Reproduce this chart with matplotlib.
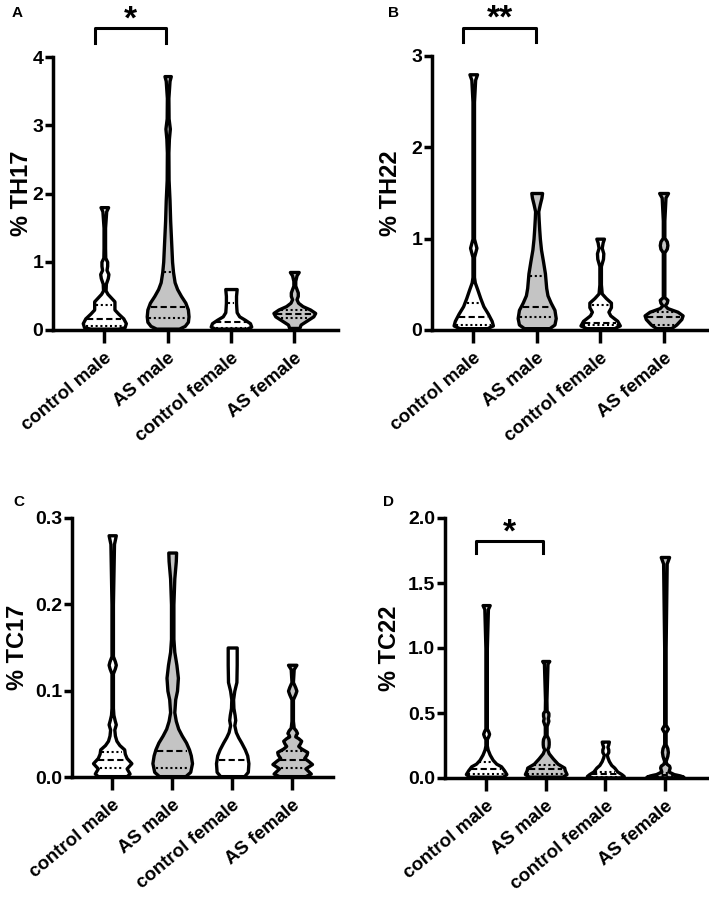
import matplotlib
matplotlib.use("Agg")
import matplotlib.pyplot as plt
import numpy as np

plt.rcParams['font.family'] = ['Liberation Sans', 'DejaVu Sans']
plt.rcParams['font.weight'] = 'bold'

groups = ['control male', 'AS male', 'control female', 'AS female']
fills = ['white', '#c4c4c4', 'white', '#c4c4c4']

# violin outlines: y levels and half widths (category units), per group
th17_y = [
    [0.02, 0.04, 0.1, 0.17, 0.24, 0.3, 0.36, 0.42, 0.47, 0.53, 0.58, 0.68, 0.76, 0.82, 0.88, 0.94, 1.0, 1.06, 1.2, 1.5, 1.74, 1.8],
    [0.02, 0.06, 0.12, 0.2, 0.3, 0.4, 0.5, 0.6, 0.7, 0.85, 1.0, 1.3, 1.6, 1.9, 2.2, 2.6, 2.8, 2.95, 3.1, 3.4, 3.65, 3.72],
    [0.02, 0.05, 0.1, 0.15, 0.2, 0.26, 0.32, 0.4, 0.5, 0.55, 0.6],
    [0.03, 0.08, 0.14, 0.2, 0.25, 0.3, 0.35, 0.4, 0.45, 0.5, 0.55, 0.6, 0.65, 0.72, 0.8, 0.85],
]
th17_w = [
    [0.22, 0.32, 0.34, 0.3, 0.22, 0.16, 0.16, 0.16, 0.11, 0.05, 0.02, 0.025, 0.055, 0.065, 0.035, 0.045, 0.045, 0.015, 0.012, 0.012, 0.03, 0.06],
    [0.18, 0.27, 0.32, 0.33, 0.32, 0.28, 0.21, 0.15, 0.11, 0.085, 0.07, 0.055, 0.04, 0.03, 0.015, 0.012, 0.02, 0.035, 0.015, 0.012, 0.03, 0.05],
    [0.25, 0.32, 0.3, 0.22, 0.13, 0.09, 0.085, 0.08, 0.08, 0.085, 0.09],
    [0.08, 0.1, 0.2, 0.3, 0.33, 0.25, 0.13, 0.06, 0.035, 0.055, 0.055, 0.035, 0.015, 0.015, 0.035, 0.07],
]
th17_q = [[0.06, 0.16, 0.37], [0.17, 0.34, 0.85], [0.03, 0.11, 0.39], [0.17, 0.24, 0.3]]

th22_y = [
    [0.02, 0.05, 0.1, 0.18, 0.26, 0.35, 0.44, 0.52, 0.58, 0.8, 0.86, 0.9, 0.94, 1.0, 1.5, 2.0, 2.5, 2.74, 2.8],
    [0.02, 0.06, 0.13, 0.22, 0.3, 0.38, 0.46, 0.62, 0.75, 0.88, 1.0, 1.1, 1.22, 1.3, 1.38, 1.45, 1.5],
    [0.02, 0.05, 0.1, 0.16, 0.2, 0.25, 0.3, 0.35, 0.4, 0.5, 0.7, 0.78, 0.84, 0.9, 0.96, 1.0],
    [0.02, 0.06, 0.12, 0.16, 0.2, 0.24, 0.27, 0.3, 0.33, 0.36, 0.5, 0.85, 0.89, 0.93, 0.97, 1.01, 1.2, 1.45, 1.5],
]
th22_w = [
    [0.22, 0.31, 0.29, 0.23, 0.16, 0.11, 0.066, 0.025, 0.012, 0.012, 0.035, 0.05, 0.035, 0.012, 0.012, 0.012, 0.012, 0.03, 0.06],
    [0.2, 0.28, 0.3, 0.28, 0.22, 0.17, 0.15, 0.13, 0.1, 0.068, 0.05, 0.04, 0.03, 0.025, 0.05, 0.075, 0.085],
    [0.22, 0.31, 0.27, 0.16, 0.13, 0.17, 0.17, 0.09, 0.025, 0.012, 0.012, 0.045, 0.05, 0.025, 0.04, 0.06],
    [0.12, 0.2, 0.28, 0.3, 0.22, 0.06, 0.02, 0.05, 0.06, 0.012, 0.012, 0.012, 0.05, 0.06, 0.05, 0.012, 0.012, 0.03, 0.07],
]
th22_q = [[0.05, 0.14, 0.3], [0.14, 0.25, 0.59], [0.05, 0.08, 0.27], [0.06, 0.14, 0.2]]

tc17_y = [
    [0.001, 0.004, 0.01, 0.016, 0.022, 0.027, 0.032, 0.037, 0.042, 0.048, 0.055, 0.061, 0.066, 0.072, 0.08, 0.12, 0.126, 0.13, 0.134, 0.14, 0.2, 0.27, 0.28],
    [0.001, 0.006, 0.016, 0.025, 0.032, 0.04, 0.048, 0.056, 0.065, 0.075, 0.09, 0.1, 0.115, 0.13, 0.145, 0.16, 0.2, 0.23, 0.25, 0.26],
    [0.001, 0.006, 0.016, 0.025, 0.032, 0.04, 0.046, 0.052, 0.06, 0.066, 0.072, 0.08, 0.09, 0.1, 0.11, 0.13, 0.15],
    [0.001, 0.004, 0.01, 0.015, 0.019, 0.022, 0.026, 0.029, 0.033, 0.036, 0.039, 0.042, 0.045, 0.047, 0.049, 0.051, 0.054, 0.057, 0.065, 0.09, 0.096, 0.1, 0.104, 0.11, 0.125, 0.13],
]
tc17_w = [
    [0.24, 0.29, 0.24, 0.32, 0.24, 0.21, 0.2, 0.12, 0.07, 0.045, 0.035, 0.06, 0.04, 0.02, 0.012, 0.012, 0.045, 0.06, 0.045, 0.012, 0.012, 0.03, 0.06],
    [0.22, 0.3, 0.33, 0.31, 0.28, 0.23, 0.16, 0.1, 0.06, 0.035, 0.05, 0.08, 0.095, 0.07, 0.035, 0.02, 0.02, 0.035, 0.06, 0.065],
    [0.2, 0.26, 0.27, 0.25, 0.21, 0.15, 0.1, 0.06, 0.035, 0.05, 0.04, 0.02, 0.015, 0.035, 0.07, 0.075, 0.075],
    [0.22, 0.31, 0.22, 0.33, 0.26, 0.2, 0.24, 0.25, 0.15, 0.1, 0.13, 0.15, 0.1, 0.05, 0.06, 0.08, 0.06, 0.025, 0.012, 0.012, 0.05, 0.07, 0.05, 0.012, 0.025, 0.07],
]
tc17_q = [[0.01, 0.02, 0.029], [0.01, 0.03, None], [None, 0.02, None], [0.01, 0.02, 0.03]]

tc22_y = [
    [0.01, 0.03, 0.06, 0.09, 0.11, 0.14, 0.18, 0.22, 0.25, 0.3, 0.32, 0.34, 0.36, 0.38, 0.5, 1.0, 1.3, 1.33],
    [0.01, 0.03, 0.06, 0.08, 0.11, 0.15, 0.19, 0.22, 0.24, 0.26, 0.28, 0.3, 0.33, 0.4, 0.44, 0.46, 0.48, 0.5, 0.52, 0.6, 0.88, 0.9],
    [0.005, 0.015, 0.03, 0.05, 0.08, 0.1, 0.13, 0.16, 0.18, 0.2, 0.22, 0.24, 0.26, 0.28],
    [0.005, 0.01, 0.02, 0.03, 0.05, 0.065, 0.08, 0.095, 0.11, 0.13, 0.17, 0.2, 0.23, 0.26, 0.35, 0.38, 0.41, 0.45, 1.0, 1.65, 1.7],
]
tc22_w = [
    [0.28, 0.34, 0.3, 0.25, 0.17, 0.11, 0.06, 0.025, 0.012, 0.012, 0.035, 0.05, 0.035, 0.012, 0.012, 0.012, 0.03, 0.06],
    [0.28, 0.35, 0.32, 0.31, 0.2, 0.12, 0.05, 0.025, 0.045, 0.05, 0.05, 0.045, 0.015, 0.015, 0.045, 0.035, 0.045, 0.045, 0.015, 0.012, 0.03, 0.06],
    [0.25, 0.31, 0.27, 0.2, 0.15, 0.1, 0.06, 0.035, 0.025, 0.05, 0.05, 0.035, 0.05, 0.06],
    [0.25, 0.31, 0.25, 0.15, 0.06, 0.07, 0.08, 0.07, 0.025, 0.012, 0.04, 0.05, 0.04, 0.012, 0.012, 0.05, 0.012, 0.012, 0.012, 0.03, 0.07],
]
tc22_q = [[0.03, 0.07, 0.12], [0.03, 0.07, 0.1], [0.01, 0.03, 0.05], [0.005, 0.02, 0.04]]

W, H = 709, 902
fig = plt.figure(figsize=(W / 100, H / 100), dpi=100)


def box(l, r, t, b):
    return [l / W, 1 - b / H, (r - l) / W, (b - t) / H]


panels = [
    dict(rect=box(53, 338, 57, 330), xlim=(-0.81, 3.69), ylim=4, ticks=[0, 1, 2, 3, 4], fmt='%g',
         label='% TH17', lx=-0.07, ys=th17_y, ws=th17_w, qs=th17_q, letter='A', lpos=(12, 13),
         sig=(-0.14, 0.97, 4.42, 4.2, '*')),
    dict(rect=box(432, 708, 56, 330), xlim=(-0.65, 3.7), ylim=3, ticks=[0, 1, 2, 3], fmt='%g',
         label='% TH22', lx=-0.11, ys=th22_y, ws=th22_w, qs=th22_q, letter='B', lpos=(388, 13),
         sig=(-0.16, 0.99, 3.31, 3.15, '**')),
    dict(rect=box(72, 333, 518, 777), xlim=(-0.67, 3.68), ylim=0.3, ticks=[0, 0.1, 0.2, 0.3], fmt='%.1f',
         label='% TC17', lx=-0.165, ys=tc17_y, ws=tc17_w, qs=tc17_q, letter='C', lpos=(13, 502), sig=None),
    dict(rect=box(445, 709, 518, 778), xlim=(-0.69, 3.74), ylim=2.0, ticks=[0, 0.5, 1.0, 1.5, 2.0], fmt='%.1f',
         label='% TC22', lx=-0.165, ys=tc22_y, ws=tc22_w, qs=tc22_q, letter='D', lpos=(383, 502),
         sig=(-0.17, 0.96, 1.82, 1.73, '*')),
]

for p in panels:
    ax = fig.add_axes(p['rect'])
    for i in range(4):
        y = np.array(p['ys'][i])
        w = np.array(p['ws'][i])
        ax.fill_betweenx(y, i - w, i + w, facecolor=fills[i], edgecolor='black',
                         linewidth=2.4, joinstyle='round', zorder=3, clip_on=False)
        for k, q in enumerate(p['qs'][i]):
            if q is None:
                continue
            hw = np.interp(q, y, w) - 0.035
            style = (0, (3, 1.6)) if k == 1 else (0, (1, 1.3))
            ax.plot([i - hw, i + hw], [q, q], color='black', lw=1.5, ls=style, zorder=4)
    ax.set_xlim(*p['xlim'])
    ax.set_ylim(0, p['ylim'])
    ax.set_yticks(p['ticks'])
    ax.set_yticklabels([p['fmt'] % t for t in p['ticks']])
    ax.set_xticks(range(4))
    ax.set_xticklabels(groups, rotation=40, ha='right', rotation_mode='anchor')
    for s in ['top', 'right']:
        ax.spines[s].set_visible(False)
    for s in ['left', 'bottom']:
        ax.spines[s].set_linewidth(2.5)
    ax.tick_params(axis='y', length=6, width=2.5, labelsize=14, pad=1)
    ax.tick_params(axis='x', length=9, width=2.5, labelsize=13.5, pad=5)
    ax.set_ylabel(p['label'], fontsize=17, fontweight='bold')
    ax.yaxis.set_label_coords(p['lx'], 0.5)
    if p['sig'] is not None:
        x0, x1, yb, yl, txt = p['sig']
        ax.plot([x0, x0, x1, x1], [yl, yb, yb, yl], color='black', lw=2.2, clip_on=False)
        ax.text((x0 + x1) / 2, yb, txt, ha='center', va='baseline', fontsize=24,
                fontweight='bold', clip_on=False)
    fig.text(p['lpos'][0] / W, 1 - p['lpos'][1] / H, p['letter'], ha='left', va='center',
             fontsize=11, fontweight='bold')

fig.savefig('out.png', dpi=100)
